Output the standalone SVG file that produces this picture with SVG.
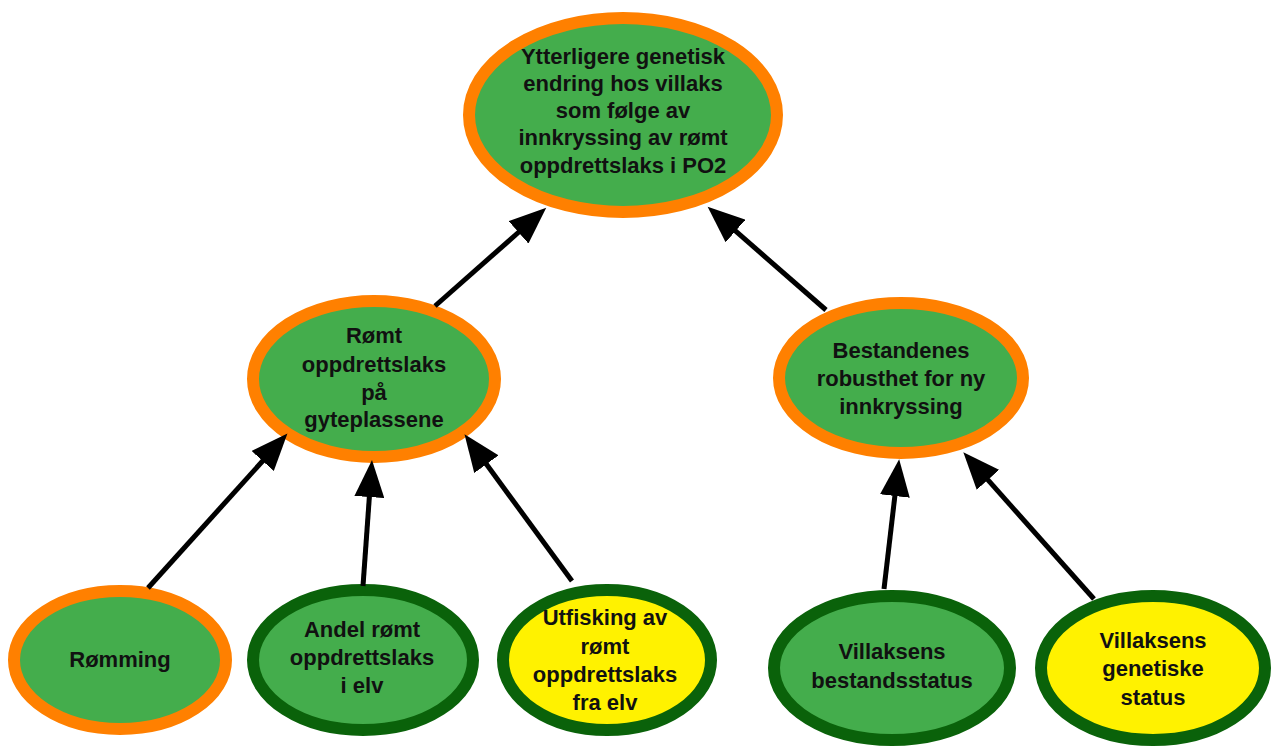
<svg xmlns="http://www.w3.org/2000/svg" width="1273" height="749" viewBox="0 0 1273 749">
<style>
.n{fill:#44AD4C}
.y{fill:#FFF200}
.o{stroke:#FF8000;stroke-width:12}
.d{stroke:#0A620A;stroke-width:12}
text{font-family:"Liberation Sans",Arial,sans-serif;font-weight:bold;font-size:22px;fill:#111;text-anchor:middle}
.c line{stroke:#000;stroke-width:5}
</style>
<defs>
<marker id="ah" markerUnits="userSpaceOnUse" markerWidth="38" markerHeight="30" refX="2" refY="15" orient="auto" viewBox="0 0 38 30">
<path d="M0,0 L37,15 L0,30 z" fill="#000"/>
</marker>
</defs>
<rect width="1273" height="749" fill="#fff"/>
<g id="top">
<ellipse class="n o" cx="623" cy="115" rx="154" ry="97"/>
<text x="623" y="64">Ytterligere genetisk</text>
<text x="623" y="91">endring hos villaks</text>
<text x="623" y="118">som følge av</text>
<text x="623" y="145">innkryssing av rømt</text>
<text x="623" y="173">oppdrettslaks i PO2</text>
</g>
<g id="romt">
<ellipse class="n o" cx="374" cy="379" rx="121" ry="78"/>
<text x="374" y="343">Rømt</text>
<text x="374" y="372">oppdrettslaks</text>
<text x="374" y="400">på</text>
<text x="374" y="427">gyteplassene</text>
</g>
<g id="bestandenes">
<ellipse class="n o" cx="901" cy="378" rx="122" ry="75"/>
<text x="901" y="358">Bestandenes</text>
<text x="901" y="386">robusthet for ny</text>
<text x="901" y="414">innkryssing</text>
</g>
<g id="romming">
<ellipse class="n o" cx="120" cy="660" rx="106" ry="69"/>
<text x="120" y="667">Rømming</text>
</g>
<g id="andel">
<ellipse class="n d" cx="363" cy="660" rx="110" ry="70"/>
<text x="362" y="637">Andel rømt</text>
<text x="362" y="665">oppdrettslaks</text>
<text x="362" y="693">i elv</text>
</g>
<g id="utfisking">
<ellipse class="y d" cx="607" cy="660" rx="104" ry="70"/>
<text x="605" y="625">Utfisking av</text>
<text x="605" y="654">rømt</text>
<text x="605" y="682">oppdrettslaks</text>
<text x="605" y="710">fra elv</text>
</g>
<g id="bestandsstatus">
<ellipse class="n d" cx="892" cy="668" rx="118" ry="72"/>
<text x="892" y="659">Villaksens</text>
<text x="892" y="688">bestandsstatus</text>
</g>
<g id="genetiske">
<ellipse class="y d" cx="1153" cy="668" rx="112" ry="72"/>
<text x="1153" y="648">Villaksens</text>
<text x="1153" y="676">genetiske</text>
<text x="1153" y="705">status</text>
</g>
<g class="c" id="connectors">
<line x1="435" y1="306" x2="520" y2="231" marker-end="url(#ah)"/>
<line x1="826" y1="310" x2="734" y2="229.7" marker-end="url(#ah)"/>
<line x1="148" y1="588" x2="264" y2="459.5" marker-end="url(#ah)"/>
<line x1="363" y1="586" x2="369.5" y2="495" marker-end="url(#ah)"/>
<line x1="572" y1="581" x2="485.2" y2="462.6" marker-end="url(#ah)"/>
<line x1="884" y1="589" x2="895.1" y2="494" marker-end="url(#ah)"/>
<line x1="1094" y1="599" x2="986.6" y2="478.4" marker-end="url(#ah)"/>
</g>
</svg>
